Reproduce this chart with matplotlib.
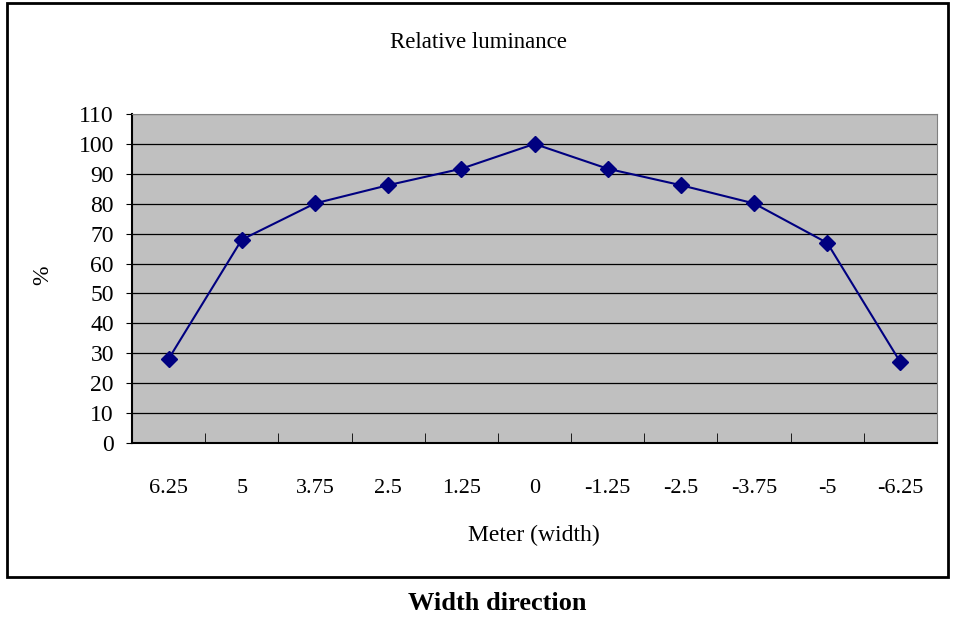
import matplotlib
matplotlib.use('Agg')
import matplotlib.pyplot as plt
from matplotlib.patches import Rectangle

# data
positions = ['6.25', '5', '3.75', '2.5', '1.25', '0', '-1.25', '-2.5', '-3.75', '-5', '-6.25']
luminance = [28.1, 68.0, 80.1, 86.2, 91.7, 100, 91.7, 86.2, 80.1, 66.9, 27.0]
yticks = list(range(0, 111, 10))

plt.rcParams['font.family'] = ['Liberation Serif', 'DejaVu Serif']

W, H = 955, 619
fig = plt.figure(figsize=(W / 100, H / 100), dpi=100)
ax = fig.add_axes([132 / W, 1 - 443 / H, (937 - 132) / W, (443 - 114) / H])
ax.set_facecolor('#c0c0c0')

x = list(range(len(positions)))
ax.plot(x, luminance, color='#000080', lw=1.5, marker='D', ms=8,
        mfc='#000080', mec='#000080', zorder=3)

ax.set_xlim(-0.5, len(positions) - 0.5)
ax.set_ylim(0, 110)
ax.set_yticks(yticks)
ax.set_yticklabels([str(v) for v in yticks], fontsize=17)

# category labels at centres, tick marks between categories
ax.set_xticks(x)
ax.set_xticklabels(positions, fontsize=16)
ax.tick_params(axis='x', which='major', length=0, pad=26)
ax.set_xticks([i + 0.5 for i in range(-1, len(positions))], minor=True)
ax.tick_params(axis='x', which='minor', direction='in', length=7, color='black')
ax.tick_params(axis='y', direction='out', length=4, color='black', pad=9)

for v in yticks[1:-1]:
    ax.axhline(v, color='black', lw=0.9, zorder=1)
ax.axhline(110, color='#808080', lw=1, zorder=1)

ax.spines['left'].set_color('black')
ax.spines['bottom'].set_color('black')
ax.spines['left'].set_linewidth(1.5)
ax.spines['bottom'].set_linewidth(1.5)
ax.spines['top'].set_color('#808080')
ax.spines['right'].set_color('#808080')

fig.text(478 / W, 1 - 42 / H, 'Relative luminance', ha='center', va='center', fontsize=16.5)
fig.text(43 / W, 1 - 275 / H, '%', ha='center', va='center', fontsize=17, rotation=90)
fig.text(534 / W, 1 - 535 / H, 'Meter (width)', ha='center', va='center', fontsize=17)
fig.text(497 / W, 1 - 603 / H, 'Width direction', ha='center', va='center',
         fontsize=19, fontweight='bold')

box = Rectangle((7 / W, 1 - 577 / H), (948 - 7) / W, (577 - 3) / H,
                transform=fig.transFigure, fill=False, ec='black', lw=2)
fig.add_artist(box)

fig.savefig('out.png', dpi=100)
